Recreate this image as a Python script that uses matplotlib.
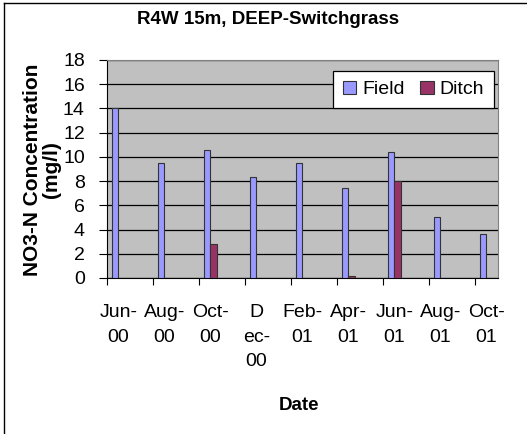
import matplotlib.pyplot as plt
import numpy as np
from matplotlib.lines import Line2D

plt.rcParams['font.family'] = ['Liberation Sans', 'DejaVu Sans']

dates = ["Jun-\n00", "Aug-\n00", "Oct-\n00", "D\nec-\n00", "Feb-\n01",
         "Apr-\n01", "Jun-\n01", "Aug-\n01", "Oct-\n01"]
field = [14.0, 9.5, 10.6, 8.3, 9.5, 7.4, 10.4, 5.0, 3.6]
ditch = [None, None, 2.8, None, None, 0.15, 8.0, None, None]

fig = plt.figure(figsize=(5.27, 4.34), dpi=100)
ax = fig.add_axes([107 / 527, 1 - 278 / 434, 391 / 527, 218 / 434])
ax.set_facecolor('#C0C0C0')

x = np.arange(len(dates))
bw = 0.145
ax.bar(x + 0.10, field, width=bw, align='edge', color='#9999FF',
       edgecolor='#333333', linewidth=0.8, label='Field', zorder=3)
dx = [i for i, v in zip(x, ditch) if v is not None]
dv = [v for v in ditch if v is not None]
ax.bar(np.array(dx) + 0.10 + bw, dv, width=bw, align='edge', color='#993366',
       edgecolor='#333333', linewidth=0.8, label='Ditch', zorder=3)

ax.set_xlim(0, 8.5)
ax.set_ylim(0, 18)
ax.set_yticks(np.arange(0, 19, 2))
ax.yaxis.grid(True, color='black', linewidth=0.9, zorder=1)
ax.set_axisbelow(True)

ax.set_xticks(x)
ax.set_xticklabels([])
ax.set_xticks(x + 0.25, minor=True)
ax.set_xticklabels(dates, minor=True, fontsize=14, linespacing=1.55, va='top')
ax.tick_params(axis='x', which='major', direction='out', length=5, color='black')
ax.tick_params(axis='x', which='minor', length=0, pad=19)
ax.tick_params(axis='y', direction='out', length=6, pad=10, labelsize=14)

for s in ['top', 'right']:
    ax.spines[s].set_color('#808080')
for s in ['left', 'bottom']:
    ax.spines[s].set_color('black')

leg = ax.legend(loc='upper right', ncol=2, fontsize=14, frameon=True,
                fancybox=False, edgecolor='black', framealpha=1,
                handlelength=0.7, handleheight=0.7, handletextpad=0.3,
                columnspacing=0.8, borderpad=0.5, borderaxespad=0,
                bbox_to_anchor=(1 - 4 / 391, 1 - 11 / 218))
leg.get_frame().set_linewidth(0.9)

fig.text(268 / 527, 1 - 20 / 434, "R4W 15m, DEEP-Switchgrass", ha='center',
         va='center', fontsize=13.5, fontweight='bold')
fig.text(42 / 527, 1 - 170 / 434, "NO3-N Concentration\n(mg/l)", ha='center',
         va='center', rotation=90, fontsize=15, fontweight='bold',
         multialignment='center', linespacing=1.0)
fig.text(299 / 527, 1 - 405 / 434, "Date", ha='center', va='center',
         fontsize=13.5, fontweight='bold')

# chart border
fig.add_artist(Line2D([4 / 527, 1], [1 - 2.5 / 434, 1 - 2.5 / 434],
                      transform=fig.transFigure, color='black', linewidth=1))
fig.add_artist(Line2D([4 / 527, 4 / 527], [0, 1 - 2.5 / 434],
                      transform=fig.transFigure, color='black', linewidth=1))

fig.savefig('out.png', dpi=100)
